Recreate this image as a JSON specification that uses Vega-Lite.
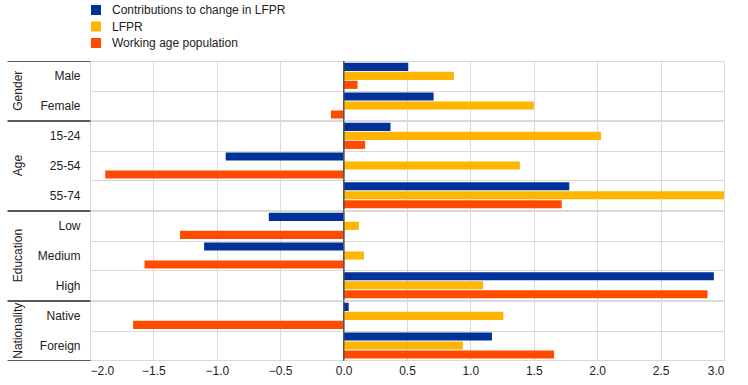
{
  "$schema": "https://vega.github.io/schema/vega-lite/v6.json",
  "padding": {"left": 6, "top": 4, "right": 5, "bottom": 5},
  "bounds": "flush",
  "data": {"values": [
    {"group": "Gender", "cat": "Male", "order": 1, "series": "Contributions to change in LFPR", "value": 0.51},
    {"group": "Gender", "cat": "Male", "order": 1, "series": "LFPR", "value": 0.87},
    {"group": "Gender", "cat": "Male", "order": 1, "series": "Working age population", "value": 0.11},
    {"group": "Gender", "cat": "Female", "order": 2, "series": "Contributions to change in LFPR", "value": 0.71},
    {"group": "Gender", "cat": "Female", "order": 2, "series": "LFPR", "value": 1.5},
    {"group": "Gender", "cat": "Female", "order": 2, "series": "Working age population", "value": -0.1},
    {"group": "Age", "cat": "15-24", "order": 3, "series": "Contributions to change in LFPR", "value": 0.37},
    {"group": "Age", "cat": "15-24", "order": 3, "series": "LFPR", "value": 2.03},
    {"group": "Age", "cat": "15-24", "order": 3, "series": "Working age population", "value": 0.17},
    {"group": "Age", "cat": "25-54", "order": 4, "series": "Contributions to change in LFPR", "value": -0.93},
    {"group": "Age", "cat": "25-54", "order": 4, "series": "LFPR", "value": 1.39},
    {"group": "Age", "cat": "25-54", "order": 4, "series": "Working age population", "value": -1.88},
    {"group": "Age", "cat": "55-74", "order": 5, "series": "Contributions to change in LFPR", "value": 1.78},
    {"group": "Age", "cat": "55-74", "order": 5, "series": "LFPR", "value": 3.0},
    {"group": "Age", "cat": "55-74", "order": 5, "series": "Working age population", "value": 1.72},
    {"group": "Education", "cat": "Low", "order": 6, "series": "Contributions to change in LFPR", "value": -0.59},
    {"group": "Education", "cat": "Low", "order": 6, "series": "LFPR", "value": 0.12},
    {"group": "Education", "cat": "Low", "order": 6, "series": "Working age population", "value": -1.29},
    {"group": "Education", "cat": "Medium", "order": 7, "series": "Contributions to change in LFPR", "value": -1.1},
    {"group": "Education", "cat": "Medium", "order": 7, "series": "LFPR", "value": 0.16},
    {"group": "Education", "cat": "Medium", "order": 7, "series": "Working age population", "value": -1.57},
    {"group": "Education", "cat": "High", "order": 8, "series": "Contributions to change in LFPR", "value": 2.92},
    {"group": "Education", "cat": "High", "order": 8, "series": "LFPR", "value": 1.1},
    {"group": "Education", "cat": "High", "order": 8, "series": "Working age population", "value": 2.87},
    {"group": "Nationality", "cat": "Native", "order": 9, "series": "Contributions to change in LFPR", "value": 0.04},
    {"group": "Nationality", "cat": "Native", "order": 9, "series": "LFPR", "value": 1.26},
    {"group": "Nationality", "cat": "Native", "order": 9, "series": "Working age population", "value": -1.66},
    {"group": "Nationality", "cat": "Foreign", "order": 10, "series": "Contributions to change in LFPR", "value": 1.17},
    {"group": "Nationality", "cat": "Foreign", "order": 10, "series": "LFPR", "value": 0.94},
    {"group": "Nationality", "cat": "Foreign", "order": 10, "series": "Working age population", "value": 1.66}
  ]},
  "facet": {
    "row": {
      "field": "group", "type": "nominal",
      "sort": ["Gender", "Age", "Education", "Nationality"],
      "header": {"title": null, "labelAngle": -90, "labelOrient": "left", "labelAlign": "center", "labelFont": "Liberation Sans", "labelFontSize": 12, "labelColor": "#222", "labelPadding": 60}
    }
  },
  "spacing": {"row": 0},
  "resolve": {"scale": {"y": "independent"}},
  "spec": {
    "width": 634,
    "height": {"step": 9},
    "layer": [
      {
        "mark": {"type": "bar"},
        "encoding": {
          "y": {
            "field": "cat", "type": "nominal",
            "sort": {"field": "order", "op": "min"},
            "scale": {"paddingInner": 0, "paddingOuter": 0},
            "axis": {
              "title": null, "tickBand": "extent", "grid": true, "gridColor": "#d9d9d9", "domain": false,
              "ticks": true, "tickSize": 83,
              "tickColor": {"condition": {"test": "datum.extra || indexof(['Female','55-74','High','Foreign'], datum.value) >= 0", "value": "#595959"}, "value": "rgba(0,0,0,0)"},
              "labelPadding": -73, "labelFontSize": 12, "labelColor": "#222"
            }
          },
          "yOffset": {"field": "series", "type": "nominal", "scale": {"paddingInner": 0.1, "paddingOuter": 0.2}},
          "x": {
            "field": "value", "type": "quantitative",
            "scale": {"domain": [-2, 3], "nice": false},
            "axis": {"title": null, "values": [-2, -1.5, -1, -0.5, 0, 0.5, 1, 1.5, 2, 2.5, 3], "format": ".1f", "grid": true, "gridColor": "#d9d9d9", "ticks": false, "domain": false, "labelPadding": 4, "labelFontSize": 12, "labelColor": "#222"}
          },
          "color": {
            "field": "series", "type": "nominal",
            "scale": {"domain": ["Contributions to change in LFPR", "LFPR", "Working age population"], "range": ["#003299", "#FFB400", "#FF4B00"]},
            "legend": {"title": null, "orient": "top", "direction": "vertical", "symbolType": "square", "symbolSize": 100, "symbolStrokeWidth": 0, "labelFontSize": 12, "labelColor": "#222", "labelLimit": 400, "labelOffset": 10, "rowPadding": 4.5, "offset": 6}
          }
        }
      },
      {
        "mark": {"type": "rule", "color": "#595959", "strokeWidth": 1},
        "encoding": {"x": {"datum": 0}}
      }
    ]
  },
  "config": {"font": "Liberation Sans", "view": {"stroke": null}}
}
